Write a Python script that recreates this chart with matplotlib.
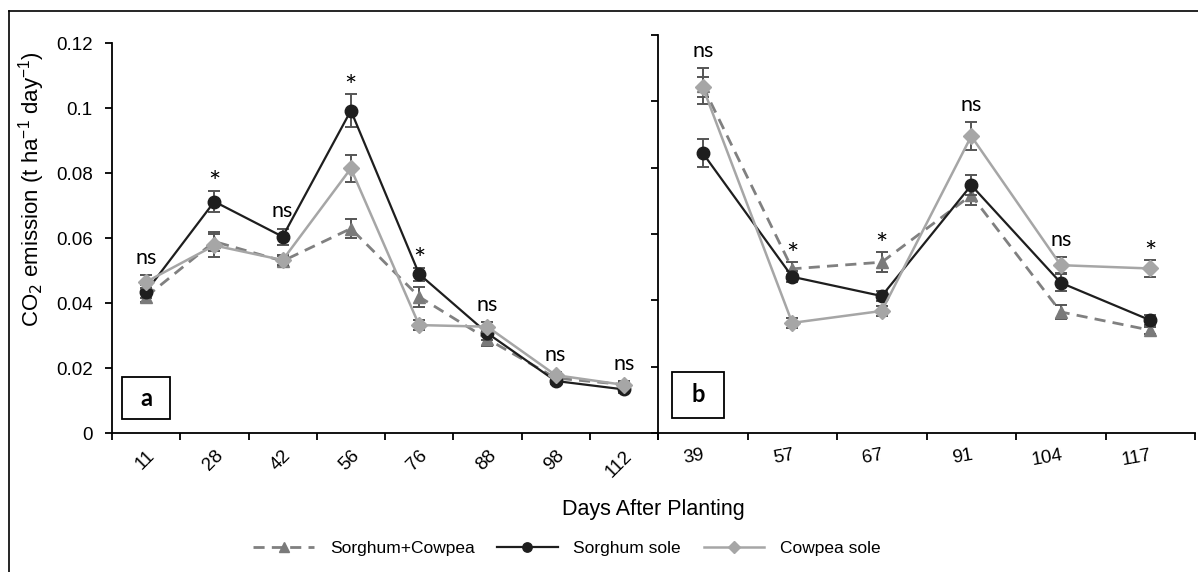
import matplotlib
matplotlib.use("Agg")
import matplotlib.pyplot as plt
from matplotlib.patches import Rectangle
from matplotlib.lines import Line2D

W, H, DPI = 1198, 572, 100

# ---------------- data ----------------
days_a = ["11", "28", "42", "56", "76", "88", "98", "112"]
sc_a = [0.042, 0.059, 0.053, 0.063, 0.042, 0.029, 0.017, 0.015]
sc_a_err = [0.0015, 0.003, 0.0015, 0.003, 0.003, 0.002, 0.001, 0.001]
ss_a = [0.0436, 0.0713, 0.0605, 0.0993, 0.049, 0.0308, 0.0161, 0.0135]
ss_a_err = [0.002, 0.0033, 0.0025, 0.005, 0.002, 0.002, 0.001, 0.001]
cs_a = [0.0466, 0.0578, 0.0533, 0.0815, 0.0333, 0.0328, 0.0179, 0.0149]
cs_a_err = [0.002, 0.0035, 0.0015, 0.0042, 0.0015, 0.0015, 0.001, 0.001]
sig_a = ["ns", "*", "ns", "*", "*", "ns", "ns", "ns"]

days_b = ["39", "57", "67", "91", "104", "117"]
sc_b = [0.1046, 0.0495, 0.0515, 0.0717, 0.0365, 0.031]
sc_b_err = [0.0053, 0.002, 0.003, 0.003, 0.002, 0.001]
ss_b = [0.0844, 0.0471, 0.0413, 0.0747, 0.0453, 0.034]
ss_b_err = [0.0043, 0.0017, 0.0015, 0.003, 0.0025, 0.0015]
cs_b = [0.1043, 0.0332, 0.0368, 0.0895, 0.0506, 0.0496]
cs_b_err = [0.003, 0.0015, 0.0015, 0.0043, 0.0025, 0.0025]
sig_b = ["ns", "*", "*", "ns", "ns", "*"]

series_names = ["Sorghum+Cowpea", "Sorghum sole", "Cowpea sole"]
y_ticks = [0, 0.02, 0.04, 0.06, 0.08, 0.1, 0.12]
y_ticklabels = ["0", "0.02", "0.04", "0.06", "0.08", "0.1", "0.12"]

# ---------------- style ----------------
SANS = ["Liberation Sans", "DejaVu Sans"]
ANN = ["Lato", "DejaVu Sans"]
plt.rcParams["font.family"] = SANS

styles = [
    dict(color="#808080", ls=(0, (4, 2.6)), lw=2.0, marker="^", ms=9, mfc="#7a7a7a", mec="#7a7a7a"),
    dict(color="#1e1e1e", ls="-", lw=1.6, marker="o", ms=9, mfc="#1e1e1e", mec="#1e1e1e"),
    dict(color="#a6a6a6", ls="-", lw=1.8, marker="D", ms=8, mfc="#a6a6a6", mec="#a6a6a6"),
]
ERR_C = "#555555"

fig = plt.figure(figsize=(W / DPI, H / DPI), dpi=DPI)


def px_rect(l, t, r, b):
    return [l / W, 1 - b / H, (r - l) / W, (b - t) / H]


ax_a = fig.add_axes(px_rect(112, 43.3, 658, 433.3))
ax_b = fig.add_axes(px_rect(658, 35, 1195, 433))


def draw_panel(ax, days, data, errs, sig, rot, label, box):
    n = len(days)
    x = list(range(n))
    for i, (vals, ev) in enumerate(zip(data, errs)):
        st = styles[i]
        ax.errorbar(x, vals, yerr=ev, fmt="none", ecolor=ERR_C, elinewidth=1.4,
                    capsize=4.5, capthick=1.4, zorder=2 + i)
        ax.plot(x, vals, color=st["color"], ls=st["ls"], lw=st["lw"], marker=st["marker"],
                ms=st["ms"], mfc=st["mfc"], mec=st["mec"], zorder=3 + i,
                label=series_names[i])
    ax.set_xlim(-0.5, n - 0.5)
    ax.set_ylim(0, 0.12)
    for s in ["top", "right"]:
        ax.spines[s].set_visible(False)
    for s in ["left", "bottom"]:
        ax.spines[s].set_linewidth(1.3)
    ax.set_xticks([k - 0.5 for k in range(n + 1)])
    ax.set_xticklabels([])
    ax.set_xticks(x, minor=True)
    ax.tick_params(axis="x", which="major", direction="out", length=5, width=1.3)
    ax.tick_params(axis="x", which="minor", length=0, pad=10)
    ax.set_xticklabels(days, minor=True, rotation=rot, ha="right",
                       rotation_mode="anchor", va="top", fontsize=13.5)
    ax.set_yticks(y_ticks)
    ax.tick_params(axis="y", direction="out", length=5, width=1.3, pad=9, labelsize=13.5)
    # significance marks
    for k in range(n):
        top = max(v[k] + e[k] for v, e in zip(data, errs))
        if sig[k] == "ns":
            ax.annotate("ns", (k, top), xytext=(0, 8), textcoords="offset points",
                        ha="center", va="baseline", fontsize=15.5, family=ANN)
        else:
            ax.annotate("*", (k, top), xytext=(0, -1), textcoords="offset points",
                        ha="center", va="baseline", fontsize=21, family=ANN)
    l, t, r, b = box
    fig.add_artist(Rectangle((l / W, 1 - b / H), (r - l) / W, (b - t) / H,
                             transform=fig.transFigure, fill=False, lw=1.3, ec="black"))
    fig.text((l + r) / 2 / W, 1 - (t + b) / 2 / H, label, ha="center", va="center",
             fontsize=17, fontweight="bold", family=ANN)


draw_panel(ax_a, days_a, [sc_a, ss_a, cs_a], [sc_a_err, ss_a_err, cs_a_err], sig_a, 45, "a",
           (122, 377, 170, 419))
draw_panel(ax_b, days_b, [sc_b, ss_b, cs_b], [sc_b_err, ss_b_err, cs_b_err], sig_b, 10, "b",
           (672, 372, 724, 418))
ax_a.set_yticklabels(y_ticklabels)
ax_b.set_yticklabels([])

fig.text(32 / W, 1 - 189 / H, r"CO$_2$ emission (t ha$^{\mathregular{-1}}$ day$^{\mathregular{-1}}$)",
         rotation=90, ha="center", va="center", fontsize=16)
fig.text(653 / W, 1 - 509 / H, "Days After Planting", ha="center", va="center", fontsize=15.5)

handles, labels = ax_a.get_legend_handles_labels()
fig.legend(handles, labels, loc="center", bbox_to_anchor=(567 / W, 1 - 548 / H), ncol=3,
           frameon=False, fontsize=12.5, handlelength=3.5, columnspacing=1.3,
           handletextpad=0.9, markerscale=0.75)

# outer frame
fig.add_artist(Line2D([8.5 / W, 8.5 / W], [0, 1 - 11 / H], transform=fig.transFigure,
                      color="black", lw=1.2))
fig.add_artist(Line2D([8.5 / W, 1], [1 - 11 / H, 1 - 11 / H], transform=fig.transFigure,
                      color="black", lw=1.2))

fig.savefig("out.png", dpi=DPI)
